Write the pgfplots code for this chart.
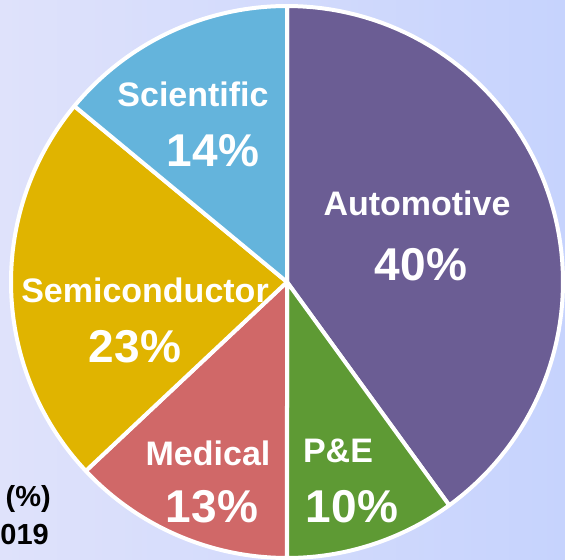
\documentclass[border=0pt]{standalone}
\usepackage{pgfplots}
\pgfplotsset{compat=1.18}
\usepackage{fontspec}
\setmainfont{Liberation Sans}

\definecolor{cAuto}{RGB}{107,93,148}
\definecolor{cPE}{RGB}{94,154,52}
\definecolor{cMed}{RGB}{208,104,104}
\definecolor{cSemi}{RGB}{224,180,0}
\definecolor{cSci}{RGB}{100,180,220}
\definecolor{bgL}{RGB}{223,226,251}
\definecolor{bgR}{RGB}{198,211,253}

% one pie slice: #1 = share before it (%), #2 = its share (%), #3 = colour
\newcommand{\slice}[3]{%
  \addplot[fill=#3, draw=white, line width=4bp, line join=round,
    domain={90-3.6*(#1+#2)}:{90-3.6*(#1)}, samples=80, variable=\t]
    ({287+276*cos(t)}, {278+276*sin(t)}) -- (axis cs:287,278) -- cycle;
}
\newcommand{\lab}{\fontsize{34bp}{38bp}\selectfont\bfseries}
\newcommand{\pct}{\fontsize{46bp}{50bp}\selectfont\bfseries}

\begin{document}
\begin{tikzpicture}
\useasboundingbox (0,0) rectangle (565bp,560bp);
\clip (0,0) rectangle (565bp,560bp);
\fill[left color=bgL, right color=bgR] (0,0) rectangle (565bp,560bp);
\begin{axis}[
    at={(0,0)}, anchor=south west,
    scale only axis, width=565bp, height=560bp,
    xmin=0, xmax=565, ymin=0, ymax=560,
    hide axis, clip=false,
]
\slice{0}{40}{cAuto}   % Automotive
\slice{40}{10}{cPE}    % P&E
\slice{50}{13}{cMed}   % Medical
\slice{63}{23}{cSemi}  % Semiconductor
\slice{86}{14}{cSci}   % Scientific

\begin{scope}[every node/.style={text=white, inner sep=0pt, anchor=base}]
\node at (axis cs:417,345) {\lab Automotive};
\node at (axis cs:421,280) {\pct 40\%};
\node at (axis cs:193,453) {\lab Scientific};
\node at (axis cs:213,393) {\pct 14\%};
\node at (axis cs:145,258) {\lab Semiconductor};
\node at (axis cs:135,198) {\pct 23\%};
\node at (axis cs:208,95) {\lab Medical};
\node at (axis cs:212,38) {\pct 13\%};
\node at (axis cs:338,98) {\lab P\&E};
\node at (axis cs:352,38) {\pct 10\%};
\end{scope}

\node[anchor=base east, inner sep=0pt] at (axis cs:51,54)
  {\fontsize{29bp}{34bp}\selectfont\bfseries Share (\%)};
\node[anchor=base east, inner sep=0pt] at (axis cs:49,16)
  {\fontsize{29bp}{34bp}\selectfont\bfseries 2019};
\end{axis}
\end{tikzpicture}
\end{document}
